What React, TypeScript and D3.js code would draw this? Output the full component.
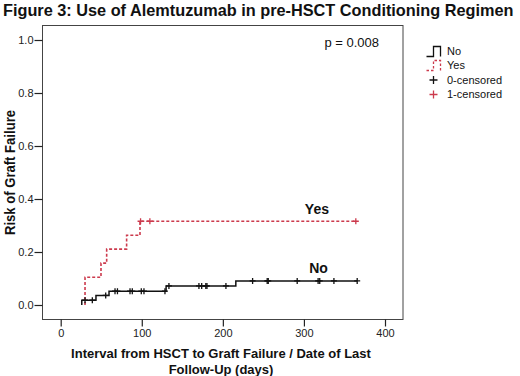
import { useEffect, useRef } from "react";
import * as d3 from "d3";

// "No" group: days where the cumulative risk steps up, and the risk after each step
const noStepDays = [26, 43.5, 59.6, 130, 216];
const noStepRisk = [0.018, 0.036, 0.052, 0.072, 0.091];
const noLastDay = 365.7;
const noCensored = [
  30, 39, 55.5, 67, 70, 85.5, 88.3, 99.4, 102.7, 128.6, 133.5, 170.5, 173.9,
  179, 180.4, 203.8, 236.7, 254.7, 256, 291.7, 317.5, 319.5, 337, 365.7,
];

// "Yes" group
const yesStepDays = [30, 49.7, 56.7, 81.3, 97.8];
const yesStepRisk = [0.105, 0.158, 0.211, 0.263, 0.316];
const yesLastDay = 364;
const yesCensored = [98.5, 110, 364];

const xTicks = [0, 100, 200, 300, 400];
const yTicks = [0, 0.2, 0.4, 0.6, 0.8, 1.0];

const FONT = "'Liberation Sans', Arial, sans-serif";
const RED = "#cc3a4d";

const App = () => {
  const svgRef = useRef(null);

  useEffect(() => {
    const svg = d3.select(svgRef.current);
    svg.selectAll("*").remove();

    // рамка графика
    const frame = { left: 42.5, right: 403, top: 25.5, bottom: 319.5 };

    const x = d3.scaleLinear().domain([0, 400]).range([60.7, 385]);
    const y = d3.scaleLinear().domain([0, 1]).range([305, 40]);

    svg
      .append("text")
      .attr("x", 3)
      .attr("y", 16)
      .attr("font-family", FONT)
      .attr("font-weight", "bold")
      .attr("font-size", 16.3)
      .attr("fill", "#111")
      .text("Figure 3: Use of Alemtuzumab in pre-HSCT Conditioning Regimen");

    svg
      .append("rect")
      .attr("x", frame.left)
      .attr("y", frame.top)
      .attr("width", frame.right - frame.left)
      .attr("height", frame.bottom - frame.top)
      .attr("fill", "white")
      .attr("stroke", "#444")
      .attr("stroke-width", 1);

    // Y ось
    const yAxis = svg
      .append("g")
      .attr("transform", `translate(${frame.left},0)`)
      .call(
        d3
          .axisLeft(y)
          .tickValues(yTicks)
          .tickFormat(d3.format(".1f"))
          .tickSize(8)
          .tickPadding(1)
      );
    yAxis.select(".domain").remove();

    // X ось
    const xAxis = svg
      .append("g")
      .attr("transform", `translate(0,${frame.bottom})`)
      .call(d3.axisBottom(x).tickValues(xTicks).tickSize(7).tickPadding(3));
    xAxis.select(".domain").remove();

    svg
      .selectAll(".tick text")
      .attr("font-family", FONT)
      .attr("font-size", 11)
      .attr("fill", "#222");
    svg.selectAll(".tick line").attr("stroke", "#222").attr("stroke-width", 1.2);

    const line = d3
      .line<[number, number]>()
      .x((d) => x(d[0]))
      .y((d) => y(d[1]))
      .curve(d3.curveStepAfter);

    const buildPoints = (days: number[], risk: number[], last: number) => {
      const pts: [number, number][] = [[days[0], 0]];
      days.forEach((d, i) => pts.push([d, risk[i]]));
      pts.push([last, risk[risk.length - 1]]);
      return pts;
    };

    const riskAt = (days: number[], risk: number[], t: number) => {
      const i = d3.bisectRight(days, t) - 1;
      return i < 0 ? 0 : risk[i];
    };

    const drawPlus = (
      g: d3.Selection<SVGGElement, unknown, null, undefined>,
      cx: number,
      cy: number,
      r: number,
      color: string
    ) => {
      g.append("path")
        .attr("d", `M${cx - r},${cy}H${cx + r}M${cx},${cy - r}V${cy + r}`)
        .attr("stroke", color)
        .attr("stroke-width", 1.3)
        .attr("fill", "none");
    };

    const plot = svg.append("g");

    // линия No
    plot
      .append("path")
      .attr("d", line(buildPoints(noStepDays, noStepRisk, noLastDay)))
      .attr("fill", "none")
      .attr("stroke", "#111")
      .attr("stroke-width", 1.5);

    // линия Yes
    plot
      .append("path")
      .attr("d", line(buildPoints(yesStepDays, yesStepRisk, yesLastDay)))
      .attr("fill", "none")
      .attr("stroke", RED)
      .attr("stroke-width", 1.6)
      .attr("stroke-dasharray", "3,2");

    noCensored.forEach((t) =>
      drawPlus(plot, x(t), y(riskAt(noStepDays, noStepRisk, t)), 3, "#111")
    );
    yesCensored.forEach((t) =>
      drawPlus(plot, x(t), y(riskAt(yesStepDays, yesStepRisk, t)), 3, RED)
    );

    // подписи групп
    const groupLabel = (tx: number, ty: number, s: string) =>
      svg
        .append("text")
        .attr("x", tx)
        .attr("y", ty)
        .attr("text-anchor", "middle")
        .attr("font-family", FONT)
        .attr("font-weight", "bold")
        .attr("font-size", 14)
        .attr("fill", "#111")
        .text(s);
    groupLabel(x(316), y(0.33) - 4, "Yes");
    groupLabel(x(318), y(0.12), "No");

    svg
      .append("text")
      .attr("x", 379)
      .attr("y", 47)
      .attr("text-anchor", "end")
      .attr("font-family", FONT)
      .attr("font-size", 13)
      .attr("fill", "#111")
      .text("p = 0.008");

    // Подпись оси Y
    svg
      .append("text")
      .attr("transform", `translate(14.5,172.5) rotate(-90)`)
      .attr("text-anchor", "middle")
      .attr("font-family", FONT)
      .attr("font-weight", "bold")
      .attr("font-size", 15)
      .attr("textLength", 125)
      .attr("lengthAdjust", "spacingAndGlyphs")
      .attr("fill", "#111")
      .text("Risk of Graft Failure");

    // Подпись оси X
    const xLabel = svg
      .append("text")
      .attr("text-anchor", "middle")
      .attr("font-family", FONT)
      .attr("font-weight", "bold")
      .attr("font-size", 13)
      .attr("fill", "#111");
    xLabel
      .append("tspan")
      .attr("x", 221)
      .attr("y", 358)
      .text("Interval from HSCT to Graft Failure / Date of Last");
    xLabel.append("tspan").attr("x", 221).attr("y", 374).text("Follow-Up (days)");

    // Легенда
    const legend = svg.append("g");
    legend
      .append("path")
      .attr("d", "M426.5,56.5H433.5V46.5H440.5V56.5")
      .attr("fill", "none")
      .attr("stroke", "#111")
      .attr("stroke-width", 1.3);
    legend
      .append("path")
      .attr("d", "M426.5,70.5H433.5V60.5H440.5V70.5")
      .attr("fill", "none")
      .attr("stroke", RED)
      .attr("stroke-width", 1.3)
      .attr("stroke-dasharray", "2.5,2");
    drawPlus(legend, 433.5, 80, 4, "#111");
    drawPlus(legend, 433.5, 94.5, 4, RED);

    const legendLabels = ["No", "Yes", "0-censored", "1-censored"];
    const legendY = [55, 69, 84, 98];
    legendLabels.forEach((s, i) =>
      legend
        .append("text")
        .attr("x", 447)
        .attr("y", legendY[i])
        .attr("font-family", FONT)
        .attr("font-size", 11)
        .attr("fill", "#111")
        .text(s)
    );
  }, []);

  return (
    <div>
      <svg
        ref={svgRef}
        width={520}
        height={376}
        style={{ position: "absolute", left: 0, top: 0, background: "white" }}
      ></svg>
    </div>
  );
};

export default App;
